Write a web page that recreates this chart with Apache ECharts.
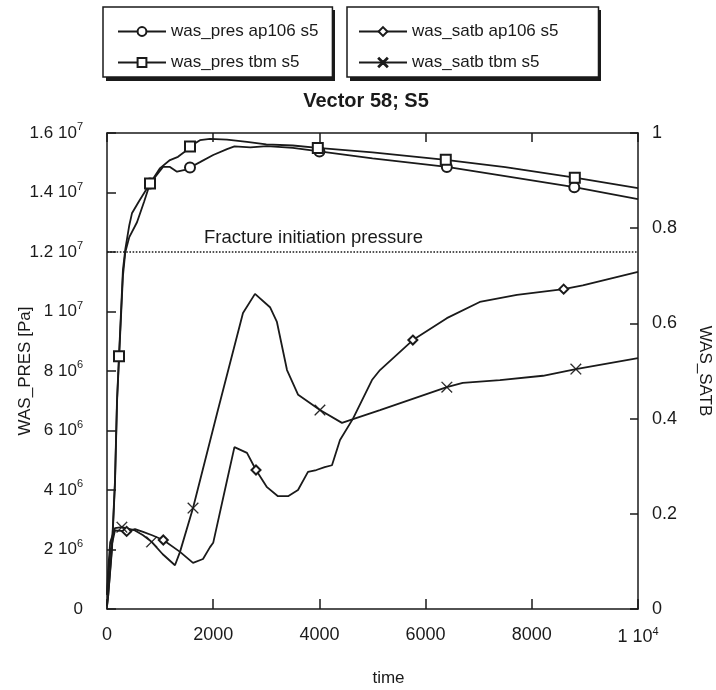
<!DOCTYPE html>
<html>
<head>
<meta charset="utf-8">
<script src="https://cdn.jsdelivr.net/npm/echarts/dist/echarts.min.js"></script>
<style>
  html, body { margin: 0; background: #fff; }
  #main { width: 716px; height: 690px; }
</style>
</head>
<body>
<div id="main"></div>
<script>
// values: [time, value]
var presAp106 = [[0, 0.1e6], [20, 0.4e6], [94, 2.0e6], [150, 4.2e6], [190, 7.0e6], [226, 8.4e6], [300, 11.2e6], [345, 12.0e6], [420, 12.5e6], [565, 13.0e6], [700, 13.7e6], [810, 14.3e6], [940, 14.6e6], [1055, 14.86e6], [1186, 14.86e6], [1318, 14.7e6], [1469, 14.76e6], [1563, 14.84e6], [1751, 15.02e6], [2000, 15.26e6], [2260, 15.46e6], [2400, 15.55e6], [2700, 15.52e6], [3013, 15.56e6], [3500, 15.5e6], [4000, 15.38e6], [5000, 15.15e6], [6400, 14.86e6], [7500, 14.55e6], [8800, 14.18e6], [10000, 13.78e6]];
var presTbm = [[0, 0.1e6], [20, 0.4e6], [94, 2.1e6], [150, 4.3e6], [188, 7.0e6], [226, 8.5e6], [300, 11.4e6], [345, 12.1e6], [420, 12.9e6], [470, 13.3e6], [600, 13.7e6], [810, 14.3e6], [1000, 14.82e6], [1186, 15.09e6], [1337, 15.2e6], [1450, 15.35e6], [1563, 15.55e6], [1751, 15.76e6], [1940, 15.8e6], [2260, 15.78e6], [2636, 15.7e6], [3000, 15.62e6], [3500, 15.58e6], [3970, 15.5e6], [5000, 15.35e6], [6380, 15.1e6], [7500, 14.85e6], [8810, 14.5e6], [10000, 14.15e6]];
var satbAp106 = [[0, 0.03], [20, 0.06], [60, 0.12], [150, 0.165], [370, 0.163], [527, 0.168], [680, 0.162], [850, 0.155], [1060, 0.145], [1375, 0.12], [1620, 0.097], [1808, 0.105], [1940, 0.13], [2000, 0.139], [2260, 0.27], [2400, 0.34], [2636, 0.328], [2806, 0.292], [3013, 0.256], [3220, 0.237], [3410, 0.237], [3597, 0.25], [3785, 0.288], [3943, 0.292], [4100, 0.298], [4237, 0.302], [4388, 0.355], [4633, 0.40], [4990, 0.481], [5141, 0.502], [5760, 0.565], [6400, 0.611], [7020, 0.645], [7720, 0.66], [8600, 0.672], [8960, 0.68], [10000, 0.708]];
var satbTbm = [[0, 0.03], [20, 0.08], [60, 0.14], [150, 0.17], [280, 0.172], [527, 0.165], [680, 0.155], [840, 0.141], [1050, 0.115], [1280, 0.092], [1375, 0.12], [1620, 0.212], [2071, 0.41], [2561, 0.622], [2787, 0.662], [3070, 0.634], [3200, 0.603], [3390, 0.502], [3600, 0.45], [4011, 0.418], [4425, 0.391], [4633, 0.399], [5141, 0.418], [6400, 0.466], [6700, 0.475], [7400, 0.481], [8210, 0.49], [8830, 0.504], [10000, 0.527]];

// times at which a marker is drawn on each curve
var presAp106Marks = [810, 1563, 4000, 6400, 8800];
var presTbmMarks = [226, 810, 1563, 3970, 6380, 8810];
var satbAp106Marks = [370, 1060, 2806, 5760, 8600];
var satbTbmMarks = [280, 840, 1620, 4011, 6400, 8830];

var fracturePres = 1.2e7;

var myChart = echarts.init(document.getElementById('main'));

var font = 'Liberation Sans, Arial, sans-serif';
var ink = '#1a1a1a';
// thin "x" marker
var crossPath = 'path://M0,0.6L0.6,0L5,4.4L9.4,0L10,0.6L5.6,5L10,9.4L9.4,10L5,5.6L0.6,10L0,9.4L4.4,5Z';

function withMarks (pts, marks) {
  return pts.map(function (p) {
    if (marks.indexOf(p[0]) >= 0) return { value: p };
    return { value: p, symbol: 'none' };
  });
}

// "1.6 10^7" style labels
function sciLabel (v) {
  if (v === 0) return '0';
  var e = Math.floor(Math.log10(v) + 1e-9);
  var m = Math.round(v / Math.pow(10, e) * 10) / 10;
  return '{m|' + m + ' 10}{e|' + e + '}';
}

function richSci (size) {
  return {
    m: { fontSize: size, fontFamily: font, color: ink },
    e: { fontSize: 11, fontFamily: font, color: ink, padding: [0, 0, 12, 0] }
  };
}

function lineSeries (name, yIdx, data, symbol, size, border) {
  return {
    name: name,
    type: 'line',
    yAxisIndex: yIdx,
    data: data,
    symbol: symbol,
    symbolSize: size,
    showSymbol: true,
    showAllSymbol: true,
    smooth: false,
    lineStyle: { color: ink, width: 1.8 },
    itemStyle: { color: ink, borderColor: ink, borderWidth: border },
    emphasis: { disabled: true },
    z: 3
  };
}

var legendBase = {
  orient: 'vertical',
  top: 7,
  itemWidth: 48,
  itemHeight: 11,
  itemGap: 14,
  backgroundColor: '#fff',
  borderColor: ink,
  borderWidth: 1.5,
  z: 10,
  textStyle: { fontSize: 17, fontFamily: font, color: ink }
};

var tickStyle = { color: ink, width: 1.5 };

var option = {
  backgroundColor: '#fff',
  animation: false,
  title: {
    text: 'Vector 58; S5',
    left: 361,
    top: 86,
    textAlign: 'center',
    textStyle: { fontSize: 20, fontWeight: 'bold', fontFamily: font, color: ink }
  },
  // drop shadows behind the two legend boxes
  graphic: [
    { type: 'rect', left: 106, top: 10, z: 5, shape: { width: 229, height: 71 }, style: { fill: ink } },
    { type: 'rect', left: 350, top: 10, z: 5, shape: { width: 251, height: 71 }, style: { fill: ink } }
  ],
  legend: [
    Object.assign({}, legendBase, {
      left: 103,
      padding: [16, 14, 6, 14],
      data: ['was_pres ap106 s5', 'was_pres tbm s5']
    }),
    Object.assign({}, legendBase, {
      left: 347,
      padding: [16, 40, 6, 11],
      data: ['was_satb ap106 s5', 'was_satb tbm s5']
    })
  ],
  grid: { left: 107, right: 78, top: 133, bottom: 81, outerBoundsMode: 'none' },
  xAxis: [
    {
      type: 'value',
      min: 0, max: 10000, interval: 2000,
      name: 'time',
      nameLocation: 'middle',
      nameGap: 61,
      nameMoveOverlap: false,
      nameTextStyle: { fontSize: 17, fontFamily: font, color: ink, padding: [0, 0, 0, 32] },
      axisLine: { onZero: false, lineStyle: tickStyle },
      axisTick: { inside: true, length: 10, lineStyle: tickStyle },
      minorTick: { show: false },
      axisLabel: {
        margin: 17,
        formatter: function (v) { return v >= 10000 ? sciLabel(v) : String(v); },
        rich: richSci(18),
        fontSize: 18, fontFamily: font, color: ink
      },
      splitLine: { show: false }
    },
    {
      // top frame with ticks only
      type: 'value',
      position: 'top',
      min: 0, max: 10000, interval: 2000,
      axisLine: { show: true, onZero: false, lineStyle: tickStyle },
      axisTick: { show: true, inside: true, length: 9, lineStyle: tickStyle },
      minorTick: { show: false },
      axisLabel: { show: false },
      splitLine: { show: false }
    }
  ],
  yAxis: [
    {
      type: 'value',
      min: 0, max: 1.6e7, interval: 2e6,
      name: 'WAS_PRES [Pa]',
      nameLocation: 'middle',
      nameRotate: 90,
      nameGap: 73,
      nameMoveOverlap: false,
      nameTextStyle: { fontSize: 17, fontFamily: font, color: ink },
      axisLine: { show: true, onZero: false, lineStyle: tickStyle },
      axisTick: { show: true, inside: true, length: 9, lineStyle: tickStyle },
      minorTick: { show: false },
      axisLabel: { margin: 24, formatter: sciLabel, rich: richSci(17), fontSize: 17, fontFamily: font, color: ink },
      splitLine: { show: false }
    },
    {
      type: 'value',
      min: 0, max: 1, interval: 0.2,
      position: 'right',
      name: 'WAS_SATB',
      nameLocation: 'middle',
      nameRotate: -90,
      nameGap: 58,
      nameMoveOverlap: false,
      nameTextStyle: { fontSize: 17, fontFamily: font, color: ink },
      axisLine: { show: true, onZero: false, lineStyle: tickStyle },
      axisTick: { show: true, inside: true, length: 8, lineStyle: tickStyle },
      minorTick: { show: false },
      axisLabel: { margin: 14, fontSize: 18, fontFamily: font, color: ink },
      splitLine: { show: false }
    }
  ],
  series: [
    lineSeries('was_pres ap106 s5', 0, withMarks(presAp106, presAp106Marks), 'emptyCircle', 10, 1.4),
    Object.assign(lineSeries('was_pres tbm s5', 0, withMarks(presTbm, presTbmMarks), 'emptyRect', 10, 1.4), {
      markLine: {
        silent: true,
        symbol: 'none',
        lineStyle: { type: 'dotted', color: ink, width: 1.6 },
        label: {
          show: true,
          position: 'insideStartTop',
          formatter: 'Fracture initiation pressure',
          fontSize: 18.5, fontFamily: font, color: ink,
          padding: [0, 0, 0, 92]
        },
        data: [{ yAxis: fracturePres }]
      }
    }),
    lineSeries('was_satb ap106 s5', 1, withMarks(satbAp106, satbAp106Marks), 'emptyDiamond', 9, 1.4),
    lineSeries('was_satb tbm s5', 1, withMarks(satbTbm, satbTbmMarks), crossPath, 11, 0.4)
  ]
};

myChart.setOption(option);
</script>
</body>
</html>
